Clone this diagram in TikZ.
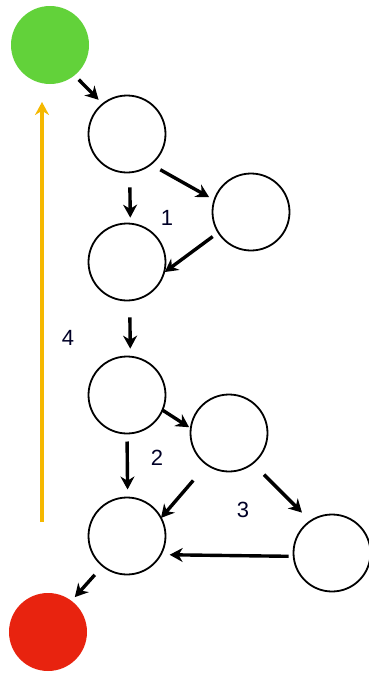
\documentclass[tikz,border=0pt]{standalone}
\usepackage{fontspec}
\setmainfont{Liberation Sans}
\usetikzlibrary{arrows.meta}
\definecolor{startgreen}{HTML}{62D23A}
\definecolor{stopred}{HTML}{E8230F}
\definecolor{backorange}{HTML}{F5B800}

\begin{document}
\begin{tikzpicture}[x=1pt, y=-1pt,
        state/.style={circle, draw, line width=1.8pt, minimum size=77pt, inner sep=0pt, outer sep=0pt},
        terminal/.style={circle, minimum size=78pt, inner sep=0pt, outer sep=0pt},
        flow/.style={line width=3.4pt, -{Stealth[length=13pt, width=14pt]}},
        lbl/.style={font=\fontsize{22}{26}\selectfont, text=black!85!blue}]
    \useasboundingbox (0,0) rectangle (369,673);
    \node[terminal, fill=startgreen] (start) at (50,45) {};
    \node[terminal, fill=stopred] (stop) at (48,632) {};
    \foreach \name/\x/\y in {n1/127/134, n2/251/212, n3/127/262, n4/127/395, n5/229/433, n6/127/536, n7/332/553}
    {
        \node[state] (\name) at (\x,\y) {};
    }
    \foreach \a/\b/\s/\t in {start.-51/n1.129/6/6, n1.-86/n3.85/15/6, n1.-52/n2.162/11/6, n2.212/n3.-16/7/1,
                             n3.-86/n4.85/17/8, n4.-23/n5.173/0/2, n4.-90/n6.89/8/8, n5.235/n6.28/21/0,
                             n5.-52/n7.124/16/12, n7.185/n6.-29/5/9, n6.231/stop.53/12/5}
    {
        \draw[flow, shorten <=\s pt, shorten >=\t pt] (\a) -- (\b);
    }
    \coordinate (back0) at (42,522);
    \coordinate (back1) at (42,102);
    \draw[line width=3.2pt, backorange, -{Stealth[length=13pt, width=14pt]}] (back0) -- (back1);
    \node[lbl] (l1) at (167,218) {1};
    \node[lbl] (l2) at (157,458) {2};
    \node[lbl] (l3) at (243,510) {3};
    \node[lbl] (l4) at (68,338) {4};
\end{tikzpicture}
\end{document}
